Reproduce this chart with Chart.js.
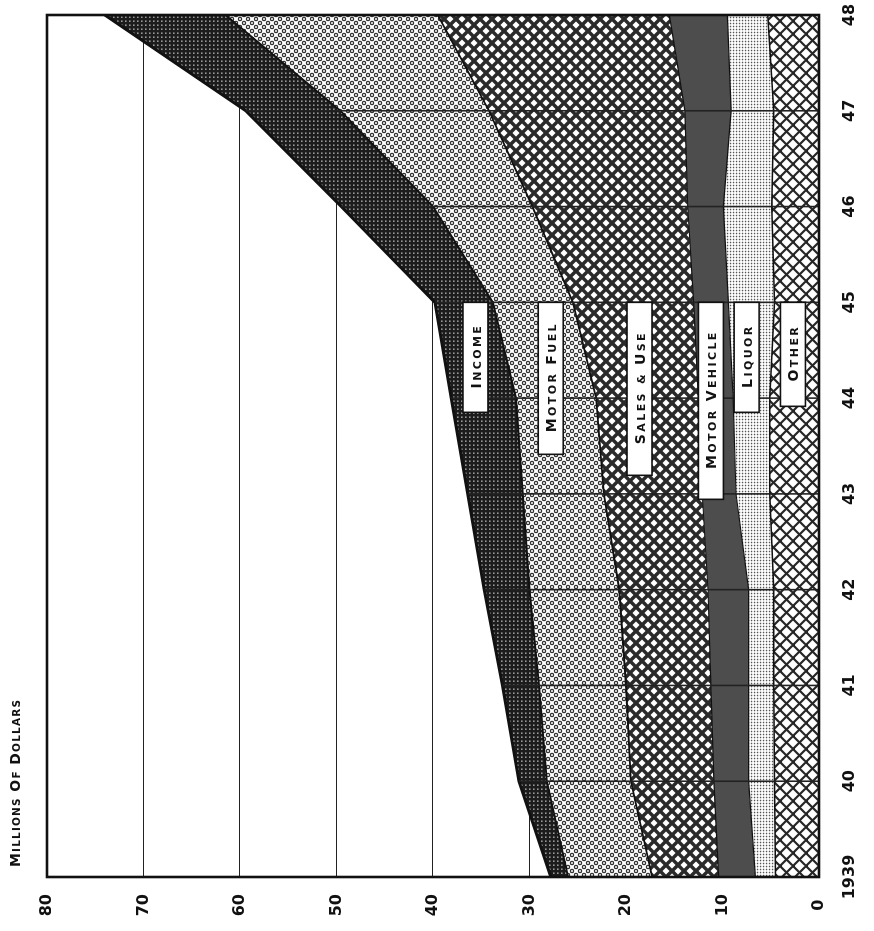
<!DOCTYPE html>
<html><head><meta charset="utf-8">
<script src="https://cdn.jsdelivr.net/npm/chart.js@4"></script>
<style>
html,body{margin:0;padding:0;background:#fff;overflow:hidden;width:874px;height:931px;}
#wrap{position:absolute;left:0;top:0;width:931px;height:874px;transform-origin:0 0;transform:translateY(931px) rotate(-90deg);}
canvas{display:block;}
</style></head><body>
<div id="wrap"><canvas id="c" width="931" height="874"></canvas></div>
<script>
// ---- data (millions of dollars) ----
const years = [1939,1940,1941,1942,1943,1944,1945,1946,1947,1948];
const yearLabels = ['1939','40','41','42','43','44','45','46','47','48'];
const valueTicks = [0,10,20,30,40,50,60,70,80];
const other        = [4.5, 4.6, 4.7, 4.7, 5.1, 5.1, 4.6, 4.9, 4.7, 5.3];
const liquor       = [2.1, 2.7, 2.6, 2.6, 3.5, 3.8, 4.8, 5.0, 4.4, 4.2];
const motorVehicle = [3.8, 3.6, 3.9, 4.2, 3.5, 3.6, 3.6, 3.7, 4.8, 6.0];
const salesUse     = [6.9, 8.6, 8.8, 9.2,10.2,10.6,12.5,16.1,20.3,24.0];
const motorFuel    = [8.7, 8.7, 9.0, 9.3, 8.4, 8.3, 8.3,10.3,15.4,22.0];
const income       = [1.8, 2.9, 3.8, 4.7, 5.7, 6.7, 6.0, 9.5, 9.8,12.5];
const titleText = 'Millions of Dollars';
const bandNames = ['Other','Liquor','Motor Vehicle','Sales & Use','Motor Fuel','Income'];

// label placement (layout, not data)
const labelYear = 1945;
const labelCenters = [2.7, 7.5, 11.2, 18.6, 27.8, 35.6];
const labelLengths = [104, 110, 197, 173, 152, 110];

// ---- patterns ----
function tile(s, fn){const c=document.createElement('canvas');c.width=s;c.height=s;const x=c.getContext('2d');fn(x,s);return document.createElement('canvas').getContext('2d').createPattern(c,'repeat');}
function cross(s,w,col){return tile(s,(x,s)=>{x.fillStyle='#fff';x.fillRect(0,0,s,s);x.strokeStyle=col;x.lineWidth=w;
  for(const k of [-s,0,s]){x.beginPath();x.moveTo(k-1,-1);x.lineTo(k+s+1,s+1);x.stroke();x.beginPath();x.moveTo(k+s+1,-1);x.lineTo(k-1,s+1);x.stroke();}});}
const patOther = cross(13,2.2,'#262626');
const patSales = cross(12,3.4,'#2a2a2a');
const patLiquor = tile(3,(x,s)=>{x.fillStyle='#fff';x.fillRect(0,0,s,s);x.fillStyle='#555';x.beginPath();x.arc(1.5,1.5,0.85,0,Math.PI*2);x.fill();});
const patMV = '#4d4d4d';
const patFuel = tile(8,(x,s)=>{x.fillStyle='#fff';x.fillRect(0,0,s,s);
  const pts=[[4,4],[0,0],[8,0],[0,8],[8,8]];
  for(const p of pts){x.fillStyle='#333';x.beginPath();x.arc(p[0],p[1],2.3,0,Math.PI*2);x.fill();x.fillStyle='#fff';x.beginPath();x.arc(p[0],p[1],1.0,0,Math.PI*2);x.fill();}});
const patIncome = tile(4,(x,s)=>{x.fillStyle='#1c1c1c';x.fillRect(0,0,s,s);x.fillStyle='rgba(255,255,255,0.55)';x.fillRect(1,1,1.6,1.6);});

const series = [other, liquor, motorVehicle, salesUse, motorFuel, income];
const fills = [patOther, patLiquor, patMV, patSales, patFuel, patIncome];
const borderW = [1.5,1.2,1.2,1.8,1.8,3];

const datasets = series.map((arr,i)=>({
  label: bandNames[i],
  data: arr.map((v,j)=>({x:years[j], y:v})),
  backgroundColor: fills[i],
  borderColor: '#111',
  borderWidth: borderW[i],
  fill: i===0 ? 'origin' : '-1',
  pointRadius: 0,
  tension: 0
}));

const FONT = '"DejaVu Sans", "Liberation Sans", sans-serif';
function smallCaps(ctx, text, x, y, big, small, sp, draw){
  let cx = x, start = true;
  for (const ch of text){
    if (ch === ' '){ cx += small*0.42 + sp; start = true; continue; }
    const isBig = start && /[A-Za-z]/.test(ch);
    start = false;
    ctx.font = `bold ${isBig?big:small}px ${FONT}`;
    const c = ch.toUpperCase();
    const w = ctx.measureText(c).width;
    if (draw) ctx.fillText(c, cx, y);
    cx += w + sp;
  }
  return cx - sp - x;
}

const overlay = {
  id:'overlay',
  afterDatasetsDraw(chart){
    const ctx = chart.ctx, xs = chart.scales.x, ys = chart.scales.y, a = chart.chartArea;
    ctx.save();
    // year lines across the stacked bands
    ctx.strokeStyle = '#222'; ctx.lineWidth = 1.6;
    years.forEach((yr,j)=>{
      const tot = series.reduce((s,arr)=>s+arr[j],0);
      const px = xs.getPixelForValue(yr);
      ctx.beginPath(); ctx.moveTo(px, ys.getPixelForValue(0)); ctx.lineTo(px, ys.getPixelForValue(tot)); ctx.stroke();
    });
    // band labels
    const right = xs.getPixelForValue(labelYear);
    bandNames.forEach((name,i)=>{
      const cy = ys.getPixelForValue(labelCenters[i]);
      const len = labelLengths[i], h = 25;
      const left = right - len;
      ctx.fillStyle = '#fff'; ctx.fillRect(left, cy-h/2, len, h);
      ctx.strokeStyle = '#111'; ctx.lineWidth = 1.6; ctx.strokeRect(left, cy-h/2, len, h);
      ctx.fillStyle = '#111'; ctx.textBaseline = 'alphabetic'; ctx.textAlign = 'left';
      const w = smallCaps(ctx, name, 0, 0, 14, 11, 2.4, false);
      smallCaps(ctx, name, left + (len - w)/2, cy + 5.2, 14, 11, 2.4, true);
    });
    // frame
    ctx.strokeStyle = '#111'; ctx.lineWidth = 2.6;
    ctx.strokeRect(a.left, a.top, a.right-a.left, a.bottom-a.top);
    ctx.restore();
  },
  afterDraw(chart){
    const ctx = chart.ctx;
    ctx.save();
    ctx.fillStyle = '#111'; ctx.textAlign='left'; ctx.textBaseline='alphabetic';
    const w = smallCaps(ctx, titleText, 0, 0, 14, 10.5, 1.2, false);
    ctx.translate(64, 20); ctx.scale(167/w, 1);
    smallCaps(ctx, titleText, 0, 0, 14, 10.5, 1.2, true);
    ctx.restore();
  }
};

new Chart(document.getElementById('c'), {
  type: 'line',
  data: { datasets },
  options: {
    responsive: false, animation: false, devicePixelRatio: 1,
    layout: { padding: { top: 47, right: 15, left: 0, bottom: 0 } },
    plugins: { legend: { display: false }, tooltip: { enabled: false }, filler: { propagate: false } },
    scales: {
      x: {
        type: 'linear', min: years[0], max: years[years.length-1],
        afterFit(s){ s.height = 55; s.paddingLeft = 0; s.paddingRight = 0; },
        afterBuildTicks(s){ s.ticks = years.map(v=>({value:v})); },
        grid: { display: false, drawTicks: false },
        border: { display: false },
        ticks: { padding: 21, maxRotation: 0, autoSkip: false, color:'#111',
          font: { family: FONT, size: 16, weight: 'bold' },
          callback(v){ const i = years.indexOf(v); return i>=0 ? yearLabels[i] : ''; } }
      },
      y: {
        stacked: true, min: 0, max: 80,
        afterFit(s){ s.width = 54; s.paddingTop = 0; s.paddingBottom = 0; },
        afterBuildTicks(s){ s.ticks = valueTicks.map(v=>({value:v})); },
        grid: { color: '#222', lineWidth: 1.1, drawTicks: false },
        border: { display: false },
        ticks: { padding: 17, crossAlign: 'center', color:'#111',
          font: { family: FONT, size: 16, weight: 'bold' } }
      }
    }
  },
  plugins: [overlay]
});
</script>
</body></html>
